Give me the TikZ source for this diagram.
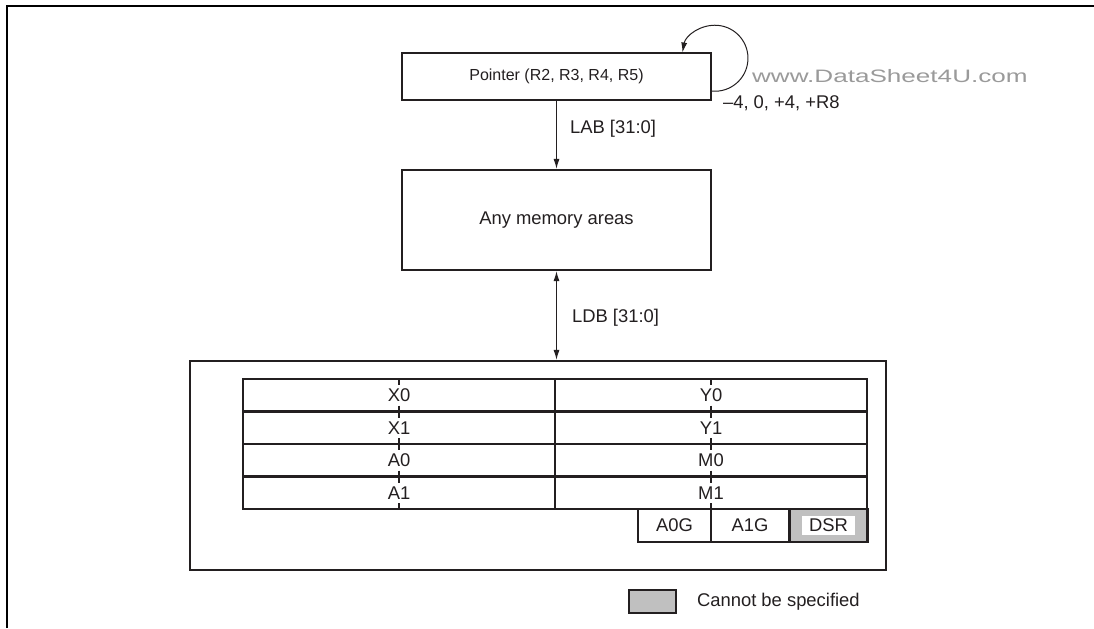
\documentclass[tikz,border=0pt]{standalone}
\usepackage{fontspec}
\setmainfont{Liberation Sans}
\usepackage{tikz}
\usetikzlibrary{arrows.meta,positioning}
\definecolor{dsink}{HTML}{231F20}
\definecolor{dsgray}{HTML}{C0C0C0}
\definecolor{dsmark}{HTML}{9A9A9A}

\begin{document}
\begin{tikzpicture}[
  x=0.5pt,y=-0.5pt,
  >={Latex[length=5pt,width=3pt]},
  font=\fontsize{9.2}{11}\selectfont,
  every node/.style={text=dsink},
  block/.style={draw=dsink,line width=1.1pt,minimum width=154.5pt,inner sep=0pt},
  cell/.style={draw=dsink,line width=1.1pt,minimum height=16.25pt,inner sep=0pt},
  bus/.style={draw=dsink,line width=0.5pt},
  tick/.style={draw=dsink,line width=1.4pt},
  frame/.style={draw=black,line width=1.2pt}
]
  \useasboundingbox (0,0) rectangle (1094,628);
  \draw[frame] (7,628) -- (7,6) -- (1094,6);

  \node[block,minimum height=23.5pt,font=\fontsize{8}{9.6}\selectfont] (ptr) at (556.5,76.5) {Pointer (R2, R3, R4, R5)};
  \node[block,minimum height=50pt] (mem) at (556.5,220) {Any memory areas};
  \node[block,minimum width=348pt,minimum height=104.5pt] (regs) at (538,465.5) {};

  % register table
  \foreach \l/\r [count=\i] in {X0/Y0,X1/Y1,A0/M0,A1/M1} {
    \node[cell,minimum width=156pt] (l\i) at (399,362.75+32.5*\i) {\l};
    \node[cell,minimum width=156pt] (r\i) at (711,362.75+32.5*\i) {\r};
  }
  \foreach \y in {379,411.5,444,476.5,509}
    \foreach \x in {399,711}
      \draw[tick] (\x,{max(379,\y-6)}) -- (\x,{min(509,\y+6)});

  \node[cell,minimum width=36.5pt] (a0g) at (674.5,525.5) {A0G};
  \node[cell,minimum width=39pt] (a1g) at (750,525.5) {A1G};
  \node[cell,minimum width=39pt,fill=dsgray] (dsr) at (828.5,525.5) {};
  \node[fill=white,inner xsep=3.7pt,inner ysep=1.7pt] (dsrlabel) at (dsr) {DSR};

  % buses
  \draw[bus,->] (ptr) -- (mem);
  \draw[bus,<->] (mem.south) -- (mem.south |- regs.north);
  \draw[bus,->] ([yshift=5pt]ptr.south east) arc[start angle=-95,end angle=170,radius=16.5pt];

  \node[anchor=west] (lab) at (563,129) {LAB [31:0]};
  \node[anchor=west] (ldb) at (565,318) {LDB [31:0]};
  \node[anchor=west] (incr) at (716,103) {\textendash4, 0, +4, +R8};
  \node[anchor=west,text=dsmark] (wmark) at (745,76)
    {\fontsize{9}{10}\selectfont\scalebox{1.45}[1]{www.DataSheet4U.com}};

  % legend
  \node[draw=dsink,fill=dsgray,line width=1.1pt,minimum width=23.5pt,
    minimum height=11.5pt,inner sep=0pt] (key) at (652.5,601.5) {};
  \node[anchor=west] (keytext) at (690,602) {Cannot be specified};
\end{tikzpicture}
\end{document}
